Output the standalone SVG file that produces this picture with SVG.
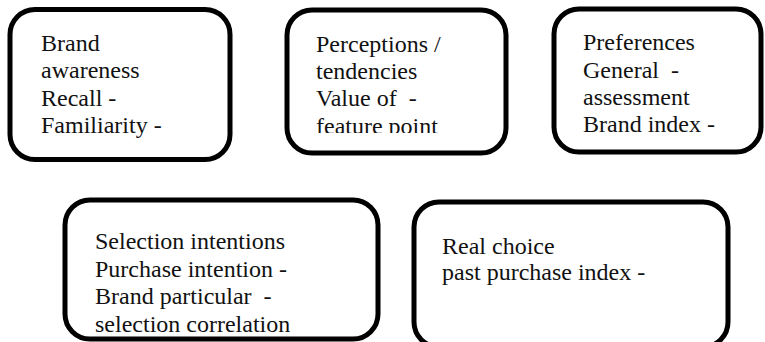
<svg xmlns="http://www.w3.org/2000/svg" width="765" height="342" viewBox="0 0 765 342">
  <style>
    .box { fill: #ffffff; stroke: #000000; stroke-width: 5; }
    .lbl { font-family: 'Liberation Serif', 'DejaVu Serif', serif; font-size: 24px; fill: #111111; white-space: pre; }
  </style>
  <defs>
    <!-- the last line of the perceptions box is cut off just below its baseline -->
    <clipPath id="clip-perceptions">
      <rect x="287" y="10" width="219" height="123"/>
    </clipPath>
  </defs>
  <rect width="765" height="342" fill="#ffffff"/>

  <g id="connectors"></g>

  <g id="awareness">
    <rect class="box" x="10" y="9.5" width="220" height="150" rx="25" ry="25"/>
    <text class="lbl" x="41" y="51">Brand</text>
    <text class="lbl" x="41" y="78">awareness</text>
    <text class="lbl" x="41" y="105.5">Recall -</text>
    <text class="lbl" x="41" y="133">Familiarity -</text>
  </g>

  <g id="perceptions">
    <rect class="box" x="287" y="10" width="219" height="143" rx="25" ry="25"/>
    <g clip-path="url(#clip-perceptions)">
      <text class="lbl" x="316" y="51.5">Perceptions /</text>
      <text class="lbl" x="316" y="79">tendencies</text>
      <text class="lbl" x="316" y="106">Value of  -</text>
      <text class="lbl" x="316" y="133.5">feature point</text>
    </g>
  </g>

  <g id="preferences">
    <rect class="box" x="554" y="9" width="207" height="143" rx="25" ry="25"/>
    <text class="lbl" x="583" y="50">Preferences</text>
    <text class="lbl" x="583" y="77.5">General  -</text>
    <text class="lbl" x="583" y="105">assessment</text>
    <text class="lbl" x="583" y="132">Brand index -</text>
  </g>

  <g id="intentions">
    <rect class="box" x="65" y="200" width="313" height="139" rx="25" ry="25"/>
    <text class="lbl" x="95" y="249">Selection intentions</text>
    <text class="lbl" x="95" y="276.5">Purchase intention -</text>
    <text class="lbl" x="95" y="304">Brand particular  -</text>
    <text class="lbl" x="95" y="331.5">selection correlation</text>
  </g>

  <g id="choice">
    <rect class="box" x="414" y="202" width="314" height="145" rx="25" ry="25"/>
    <text class="lbl" x="442" y="253.5">Real choice</text>
    <text class="lbl" x="442" y="279.5">past purchase index -</text>
  </g>
</svg>
